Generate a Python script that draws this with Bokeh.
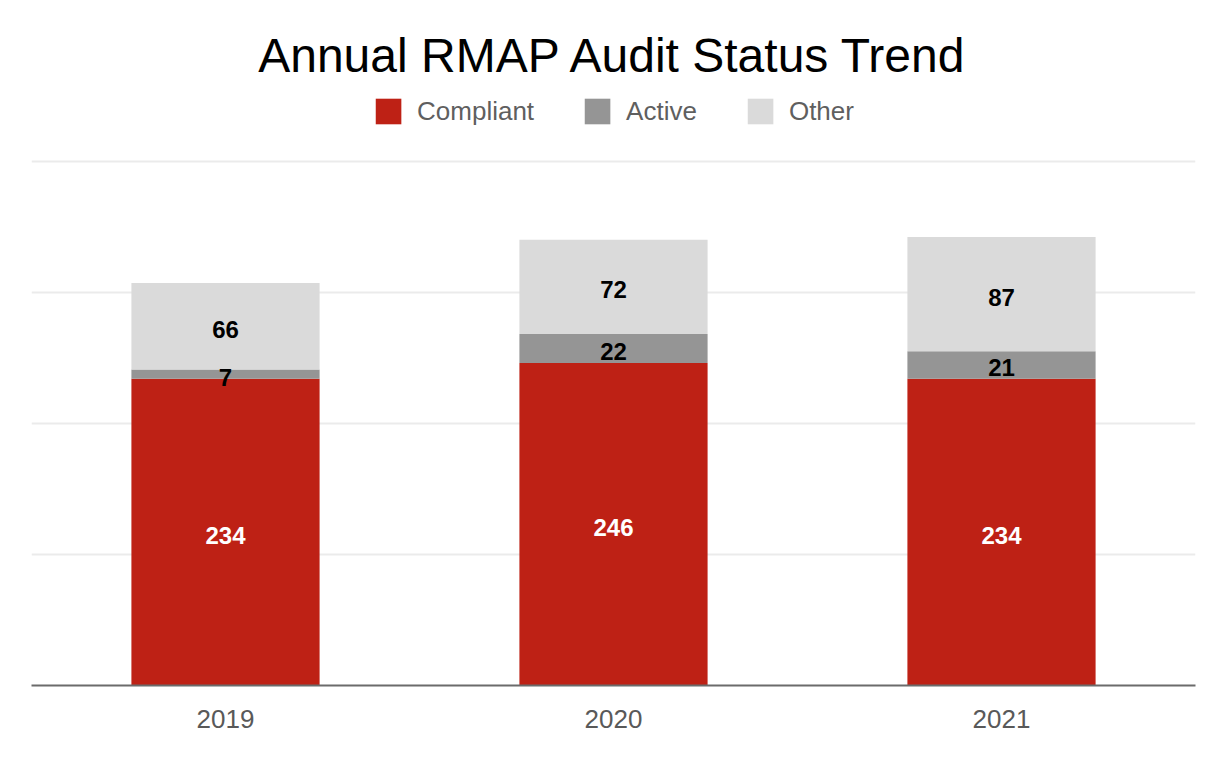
from bokeh.plotting import figure
from bokeh.models import ColumnDataSource, Range1d, FactorRange, FixedTicker, Legend
from bokeh.core.properties import value
from bokeh.embed import file_html
from bokeh.resources import INLINE

years = ["2019", "2020", "2021"]
compliant = [234, 246, 234]
active = [7, 22, 21]
other = [66, 72, 87]
series = ["Compliant", "Active", "Other"]
colors = ["#BE2115", "#959595", "#DADADA"]
grid_ticks = [0, 100, 200, 300, 400]

FONT = "Liberation Sans"

src = ColumnDataSource(dict(year=years, Compliant=compliant, Active=active, Other=other))

p = figure(x_range=FactorRange(*years, range_padding=0), y_range=Range1d(0, 450.0),
           width=1210, height=744, output_backend="svg", toolbar_location=None,
           title="Annual RMAP Audit Status Trend",
           min_border_left=31, min_border_right=15, min_border_bottom=59, min_border_top=95)

p.title.align = "center"
p.title.text_font = FONT
p.title.text_font_size = "48px"
p.title.text_font_style = "normal"
p.title.text_color = "#000000"
p.title.standoff = 28

renderers = p.vbar_stack(series, x="year", width=0.485, source=src, color=colors, line_width=0)

legend = Legend(items=[(s, [r]) for s, r in zip(series, renderers)], location="top",
                orientation="horizontal", glyph_width=32, glyph_height=32,
                label_text_font=FONT, label_text_font_size="26px", label_text_color="#5f5f5f",
                label_standoff=13, spacing=47, padding=0, margin=0,
                border_line_alpha=0, background_fill_alpha=0)
p.add_layout(legend, "center")

# labels
lab_y_c, lab_y_a, lab_y_o = [], [], []
for c, a, o in zip(compliant, active, other):
    lab_y_c.append(c / 2)
    lab_y_a.append(c + a / 2)
    lab_y_o.append(c + a + o / 2)

for ys, vals, col in [(lab_y_c, compliant, "white"), (lab_y_a, active, "black"), (lab_y_o, other, "black")]:
    p.text(x=years, y=ys, text=[str(v) for v in vals], text_color=col,
           text_font=value(FONT), text_font_size="24px", text_font_style="bold",
           text_align="center", text_baseline="middle", y_offset=3)

p.yaxis.visible = False
p.yaxis.ticker = FixedTicker(ticks=grid_ticks)
p.ygrid.ticker = FixedTicker(ticks=grid_ticks)
p.ygrid.grid_line_color = "#EBEBEB"
p.ygrid.grid_line_width = 2
p.xgrid.grid_line_color = None

p.xaxis.axis_line_color = "#6b6b6b"
p.xaxis.axis_line_width = 2
p.xaxis.major_tick_line_color = None
p.xaxis.minor_tick_line_color = None
p.xaxis.major_label_text_font = FONT
p.xaxis.major_label_text_font_size = "26px"
p.xaxis.major_label_text_color = "#595959"
p.xaxis.major_label_standoff = 18

p.outline_line_color = None
p.background_fill_color = "white"
p.border_fill_color = "white"

open("out.html", "w").write(file_html(p, INLINE))
